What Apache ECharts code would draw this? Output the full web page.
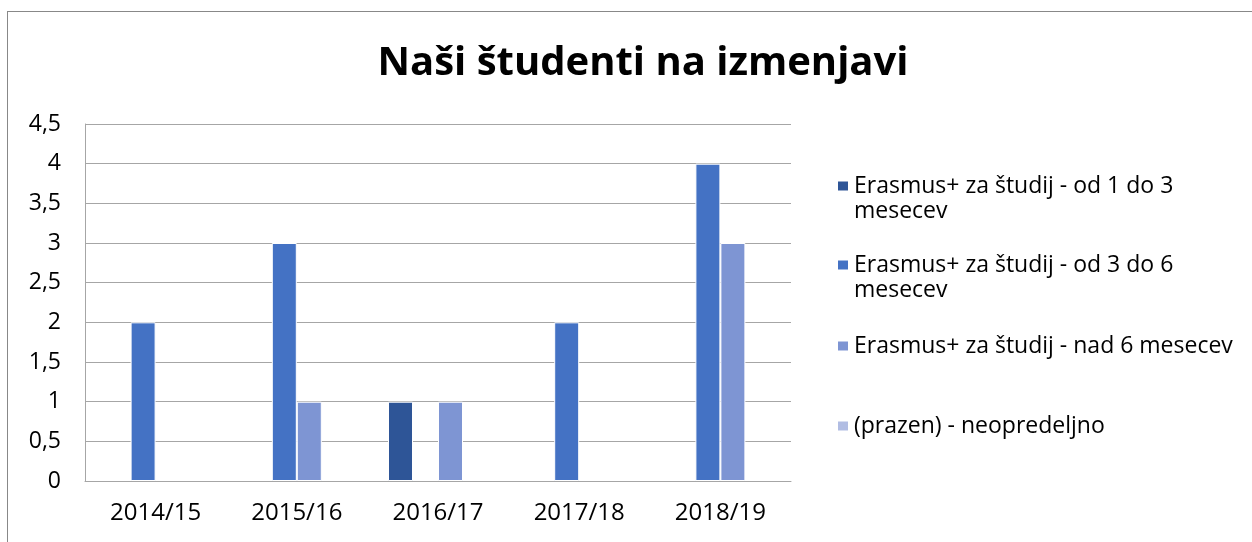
<!DOCTYPE html>
<html>
<head>
<meta charset="utf-8">
<script src="https://cdn.jsdelivr.net/npm/echarts@6/dist/echarts.min.js"></script>
<style>
  html, body { margin: 0; padding: 0; background: #fff; overflow: hidden; }
  #chart {
    position: absolute;
    left: 7px;
    top: 11px;
    width: 1270px;
    height: 540px;
    border-top: 1px solid #888;
    border-left: 1px solid #888;
  }
</style>
</head>
<body>
<div id="chart"></div>
<script>
  const categories = ['2014/15', '2015/16', '2016/17', '2017/18', '2018/19'];
  const seriesNames = [
    'Erasmus+ za študij - od 1 do 3 mesecev',
    'Erasmus+ za študij - od 3 do 6 mesecev',
    'Erasmus+ za študij - nad 6 mesecev',
    '(prazen) - neopredeljno'
  ];
  // prazne vrednosti = null
  const od1do3 = [null, null, 1, null, null];
  const od3do6 = [2, 3, null, 2, 4];
  const nad6 = [null, 1, 1, null, 3];
  const prazen = [null, null, null, null, null];
  const colors = ['#2E5597', '#4472C4', '#7E95D3', '#B1BDE3'];

  const font = '"Open Sans", "Noto Sans", sans-serif';
  // prazna prva vrstica, da je kvadratek v višini prve vrstice besedila
  const wrapped = {
    'Erasmus+ za študij - od 1 do 3 mesecev': '\nErasmus+ za študij - od 1 do 3\nmesecev',
    'Erasmus+ za študij - od 3 do 6 mesecev': '\nErasmus+ za študij - od 3 do 6\nmesecev'
  };
  // legenda: en element na legendo, y = sredina kvadratka
  const legendY = [174, 253, 332, 412];

  const chart = echarts.init(document.getElementById('chart'));
  const option = {
    animation: false,
    color: colors,
    title: {
      text: 'Naši študenti na izmenjavi',
      left: 'center',
      top: 27,
      textStyle: {
        fontFamily: font,
        fontWeight: 'bold',
        fontSize: 40,
        color: '#000'
      }
    },
    legend: seriesNames.map((n, i) => ({
      orient: 'vertical',
      left: 823,
      top: wrapped[n] ? legendY[i] - 42.5 : legendY[i] - 15.5,
      itemWidth: 12,
      itemHeight: 11,
      icon: 'rect',
      data: [n],
      formatter: s => wrapped[s] || s,
      textStyle: {
        fontFamily: font,
        fontSize: 23,
        lineHeight: 25,
        color: '#000'
      }
    })),
    grid: {
      left: 77,
      top: 112,
      width: 706,
      height: 357
    },
    xAxis: {
      type: 'category',
      data: categories,
      axisLine: { lineStyle: { color: '#a6a6a6', width: 1 } },
      axisTick: { show: false },
      axisLabel: {
        margin: 20,
        fontFamily: font,
        fontSize: 24,
        color: '#000'
      }
    },
    yAxis: {
      type: 'value',
      min: 0,
      max: 4.5,
      interval: 0.5,
      axisLine: { show: true, lineStyle: { color: '#a6a6a6', width: 1 } },
      axisTick: { show: false },
      splitLine: { lineStyle: { color: '#a6a6a6', width: 1 } },
      axisLabel: {
        margin: 24,
        fontFamily: font,
        fontSize: 23,
        color: '#000',
        formatter: v => String(v).replace('.', ',')
      }
    },
    series: [od1do3, od3do6, nad6, prazen].map((d, i) => ({
      name: seriesNames[i],
      type: 'bar',
      data: d,
      barWidth: 25,
      barGap: '0%',
      itemStyle: { borderColor: '#fff', borderWidth: 1 }
    }))
  };
  chart.setOption(option);
</script>
</body>
</html>
